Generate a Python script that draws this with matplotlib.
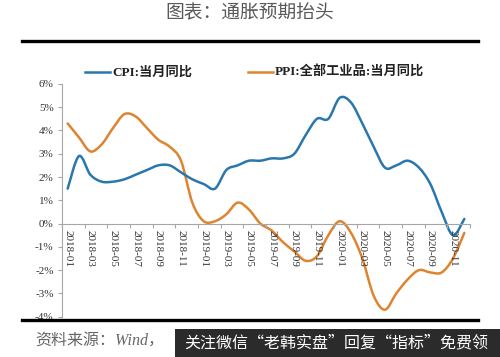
"""通胀预期抬头: CPI vs PPI 当月同比, 2018-01 to 2020-12."""

import matplotlib
matplotlib.use("Agg")
import matplotlib.pyplot as plt
from matplotlib.lines import Line2D
from matplotlib.patches import PathPatch, Rectangle
from matplotlib.path import Path

MONTHS = [f"{y}-{m:02d}" for y in (2018, 2019, 2020) for m in range(1, 13)]

CPI = [1.5, 2.9, 2.1, 1.8, 1.8, 1.9, 2.1, 2.3, 2.5, 2.5, 2.2, 1.9,
       1.7, 1.5, 2.3, 2.5, 2.7, 2.7, 2.8, 2.8, 3.0, 3.8, 4.5, 4.5,
       5.4, 5.2, 4.3, 3.3, 2.4, 2.5, 2.7, 2.4, 1.7, 0.5, -0.5, 0.2]

PPI = [4.3, 3.7, 3.1, 3.4, 4.1, 4.7, 4.6, 4.1, 3.6, 3.3, 2.7, 0.9,
       0.1, 0.1, 0.4, 0.9, 0.6, 0.0, -0.3, -0.8, -1.2, -1.6, -1.4, -0.5,
       0.1, -0.4, -1.5, -3.1, -3.7, -3.0, -2.4, -2.0, -2.1, -2.1, -1.5, -0.4]

Y_TICKS = [-4, -3, -2, -1, 0, 1, 2, 3, 4, 5, 6]

CPI_COLOR = "#2a77ad"
PPI_COLOR = "#de8430"
SERIF_CJK = ["Liberation Serif", "Noto Sans CJK SC"]


def smooth_path(ys):
    # Excel-style smoothed line: Catmull-Rom segments as cubic Beziers
    pts = list(enumerate(ys))
    verts = [pts[0]]
    codes = [Path.MOVETO]
    n = len(pts)
    for i in range(n - 1):
        p0 = pts[max(i - 1, 0)]
        p1 = pts[i]
        p2 = pts[i + 1]
        p3 = pts[min(i + 2, n - 1)]
        c1 = (p1[0] + (p2[0] - p0[0]) / 6, p1[1] + (p2[1] - p0[1]) / 6)
        c2 = (p2[0] - (p3[0] - p1[0]) / 6, p2[1] - (p3[1] - p1[1]) / 6)
        verts += [c1, c2, p2]
        codes += [Path.CURVE4] * 3
    return Path(verts, codes)


fig = plt.figure(figsize=(5.0, 3.57), dpi=100)
ax = fig.add_axes([0.124, 0.113, 0.816, 0.652])

for ys, color in ((PPI, PPI_COLOR), (CPI, CPI_COLOR)):
    ax.add_patch(PathPatch(smooth_path(ys), facecolor="none",
                           edgecolor=color, linewidth=1.8,
                           capstyle="round", joinstyle="round"))

ax.set_xlim(-0.5, len(MONTHS) - 0.5)
ax.set_ylim(-4, 6)

for s in ("top", "right"):
    ax.spines[s].set_visible(False)
ax.spines["bottom"].set_position(("data", 0))
ax.spines["bottom"].set_color("#a6a6a6")
ax.spines["left"].set_color("#a6a6a6")

ax.set_yticks(Y_TICKS)
ax.set_yticklabels([f"{v}%" for v in Y_TICKS], family="Liberation Serif",
                   fontsize=8, color="#333333")
ax.tick_params(axis="y", length=3, color="#a6a6a6", pad=3)

# tick marks between category pairs, labels on every other month
ax.set_xticks([i - 0.5 for i in range(0, len(MONTHS) + 1, 2)])
ax.set_xticklabels([])
ax.tick_params(axis="x", which="major", length=3, color="#a6a6a6")
label_idx = list(range(0, len(MONTHS), 2))
ax.set_xticks(label_idx, minor=True)
ax.set_xticklabels([MONTHS[i] for i in label_idx], minor=True,
                   rotation=270, family="Liberation Serif", fontsize=8,
                   color="#333333")
ax.tick_params(axis="x", which="minor", length=0, pad=5)

# title and rules
fig.text(0.5, 0.965, "图表：通胀预期抬头", ha="center", va="center",
         family="Noto Sans CJK SC", fontsize=13.5, color="#595959")
fig.add_artist(Line2D([0.044, 0.956], [0.885, 0.885], color="black",
                      linewidth=2.4, transform=fig.transFigure))
fig.add_artist(Line2D([0.044, 0.956], [0.104, 0.104], color="black",
                      linewidth=2.4, transform=fig.transFigure))

# legend
for x0, color, label in ((0.17, CPI_COLOR, "CPI:当月同比"),
                         (0.496, PPI_COLOR, "PPI:全部工业品:当月同比")):
    fig.add_artist(Line2D([x0, x0 + 0.05], [0.797, 0.797], color=color,
                          linewidth=1.8, transform=fig.transFigure))
    fig.text(x0 + 0.054, 0.797, label, ha="left", va="center",
             family=SERIF_CJK, fontweight="bold", fontsize=9.5,
             color="#222222")

# source line and overlay
fig.text(0.07, 0.045, "资料来源：Wind，", ha="left", va="center",
         family=SERIF_CJK, style="italic", fontsize=11.5, color="#666666")
fig.add_artist(Rectangle((0.35, 0.0), 0.65, 0.078, facecolor="#2b2b2b",
                         edgecolor="none", transform=fig.transFigure))
fig.text(0.672, 0.039, "关注微信“老韩实盘”回复“指标”免费领", ha="center",
         va="center", family="Noto Sans CJK SC", fontsize=11.5, color="white")

fig.savefig("out.png", dpi=100)
